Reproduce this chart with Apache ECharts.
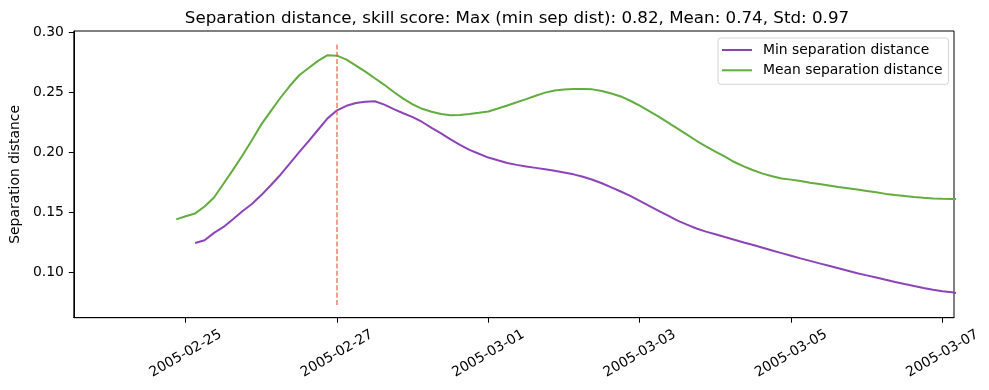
<!DOCTYPE html>
<html>
<head>
<meta charset="utf-8">
<script src="https://cdn.jsdelivr.net/npm/echarts@6/dist/echarts.min.js"></script>
<style>
html,body{margin:0;padding:0;background:#fff;}
#chart{width:989px;height:390px;}
</style>
</head>
<body>
<div id="chart"></div>
<script>
const titleText = 'Separation distance, skill score: Max (min sep dist): 0.82, Mean: 0.74, Std: 0.97';
const yAxisTitle = 'Separation distance';
const seriesNames = ['Min separation distance', 'Mean separation distance'];

const times = [
  '2005-02-24 21:00',
  '2005-02-25 00:00','2005-02-25 03:00','2005-02-25 06:00','2005-02-25 09:00','2005-02-25 12:00','2005-02-25 15:00','2005-02-25 18:00','2005-02-25 21:00',
  '2005-02-26 00:00','2005-02-26 03:00','2005-02-26 06:00','2005-02-26 09:00','2005-02-26 12:00','2005-02-26 15:00','2005-02-26 18:00','2005-02-26 21:00',
  '2005-02-27 00:00','2005-02-27 03:00','2005-02-27 06:00','2005-02-27 09:00','2005-02-27 12:00','2005-02-27 15:00','2005-02-27 18:00','2005-02-27 21:00',
  '2005-02-28 00:00','2005-02-28 03:00','2005-02-28 06:00','2005-02-28 09:00','2005-02-28 12:00','2005-02-28 15:00','2005-02-28 18:00','2005-02-28 21:00',
  '2005-03-01 00:00','2005-03-01 03:00','2005-03-01 06:00','2005-03-01 09:00','2005-03-01 12:00','2005-03-01 15:00','2005-03-01 18:00','2005-03-01 21:00',
  '2005-03-02 00:00','2005-03-02 03:00','2005-03-02 06:00','2005-03-02 09:00','2005-03-02 12:00','2005-03-02 15:00','2005-03-02 18:00','2005-03-02 21:00',
  '2005-03-03 00:00','2005-03-03 03:00','2005-03-03 06:00','2005-03-03 09:00','2005-03-03 12:00','2005-03-03 15:00','2005-03-03 18:00','2005-03-03 21:00',
  '2005-03-04 00:00','2005-03-04 03:00','2005-03-04 06:00','2005-03-04 09:00','2005-03-04 12:00','2005-03-04 15:00','2005-03-04 18:00','2005-03-04 21:00',
  '2005-03-05 00:00','2005-03-05 03:00','2005-03-05 06:00','2005-03-05 09:00','2005-03-05 12:00','2005-03-05 15:00','2005-03-05 18:00','2005-03-05 21:00',
  '2005-03-06 00:00','2005-03-06 03:00','2005-03-06 06:00','2005-03-06 09:00','2005-03-06 12:00','2005-03-06 15:00','2005-03-06 18:00','2005-03-06 21:00',
  '2005-03-07 00:00','2005-03-07 03:00','2005-03-07 06:00'
];

const minSep = [
  null,
  null,0.1245,0.1268,0.1330,0.1379,0.1444,0.1510,0.1570,
  0.1645,0.1727,0.1813,0.1908,0.2003,0.2095,0.2190,0.2285,
  0.2352,0.2390,0.2413,0.2424,0.2428,0.2400,0.2362,0.2328,
  0.2296,0.2255,0.2205,0.2160,0.2110,0.2064,0.2022,0.1990,
  0.1958,0.1935,0.1913,0.1897,0.1883,0.1872,0.1860,0.1848,
  0.1833,0.1818,0.1798,0.1773,0.1744,0.1710,0.1675,0.1638,
  0.1597,0.1555,0.1514,0.1473,0.1432,0.1398,0.1366,0.1340,
  0.1318,0.1295,0.1273,0.1250,0.1228,0.1205,0.1183,0.1161,
  0.1139,0.1117,0.1096,0.1075,0.1055,0.1035,0.1014,0.0993,
  0.0975,0.0957,0.0938,0.0920,0.0903,0.0887,0.0870,0.0855,
  0.0843,0.0834,0.0822
];

const meanSep = [
  0.1442,
  0.1468,0.1492,0.1550,0.1625,0.1740,0.1855,0.1975,0.2103,
  0.2235,0.2345,0.2455,0.2555,0.2645,0.2705,0.2765,0.2812,
  0.2808,0.2775,0.2725,0.2675,0.2620,0.2565,0.2505,0.2450,
  0.2402,0.2365,0.2340,0.2322,0.2312,0.2313,0.2322,0.2332,
  0.2343,0.2367,0.2393,0.2419,0.2446,0.2474,0.2500,0.2518,
  0.2526,0.2531,0.2531,0.2527,0.2514,0.2493,0.2468,0.2432,
  0.2392,0.2345,0.2300,0.2250,0.2200,0.2150,0.2098,0.2052,
  0.2007,0.1965,0.1921,0.1885,0.1852,0.1824,0.1802,0.1784,
  0.1774,0.1762,0.1748,0.1737,0.1725,0.1713,0.1702,0.1691,
  0.1680,0.1668,0.1655,0.1645,0.1638,0.1630,0.1623,0.1617,
  0.1614,0.1613,0.1612
];

const markerTime = '2005-02-27 00:00';
const markerRange = [0.0728, 0.2912];

const xTickLabels = ['2005-02-25','2005-02-27','2005-03-01','2005-03-03','2005-03-05','2005-03-07'];
const yTicks = [0.10, 0.15, 0.20, 0.25, 0.30];
const xRange = ['2005-02-23 12:32', '2005-03-07 03:40'];
const yRange = [0.0622, 0.3014];

const FONT = 'DejaVu Sans';
const colors = ['#8c44b8', '#62ad3e'];

function parseT(s) {
  const p = s.split(/[- :]/).map(Number);
  return Date.UTC(p[0], p[1]-1, p[2], p[3]||0, p[4]||0);
}
function pad(n){return (n<10?'0':'')+n;}
function fmtDate(v){const d=new Date(v);return d.getUTCFullYear()+'-'+pad(d.getUTCMonth()+1)+'-'+pad(d.getUTCDate());}

const tsList = times.map(parseT);
const minData = tsList.map((t,i)=>[t, minSep[i]]);
const meanData = tsList.map((t,i)=>[t, meanSep[i]]);
const xTickVals = xTickLabels.map(parseT);

const chart = echarts.init(document.getElementById('chart'), null, {renderer:'canvas'});
chart.setOption({
  animation: false,
  backgroundColor: '#fff',
  textStyle: {fontFamily: FONT, color: '#000'},
  title: {
    text: titleText,
    left: 512, top: 5, textAlign: 'center',
    textStyle: {fontFamily: FONT, fontSize: 16.7, fontWeight: 'normal', color: '#000'}
  },
  legend: {
    data: seriesNames,
    orient: 'vertical',
    left: 718, top: 38,
    padding: [2, 6, 4, 4],
    itemGap: 0.3,
    itemWidth: 30, itemHeight: 2,
    icon: 'rect',
    borderColor: '#d5d5d5', borderWidth: 1, borderRadius: 3,
    backgroundColor: 'rgba(255,255,255,0.8)',
    textStyle: {fontFamily: FONT, fontSize: 13.9, color: '#000', lineHeight: 20, padding: [0,0,0,6]}
  },
  grid: {
    left: 70, right: 35, top: 31, bottom: 72.3,
    show: true, borderColor: '#000', borderWidth: 1, containLabel: false
  },
  xAxis: {
    type: 'value',
    min: parseT(xRange[0]), max: parseT(xRange[1]),
    splitLine: {show: false},
    axisLine: {show: true, lineStyle: {color: '#000', width: 1}},
    axisTick: {show: true, length: 5, lineStyle: {color: '#000', width: 1}, customValues: xTickVals},
    axisLabel: {
      customValues: xTickVals,
      formatter: fmtDate,
      rotate: 30, align: 'center', verticalAlign: 'middle', margin: 36,
      fontFamily: FONT, fontSize: 13.9, color: '#000',
      hideOverlap: false, showMinLabel: true, showMaxLabel: true
    }
  },
  yAxis: {
    type: 'value',
    min: yRange[0], max: yRange[1],
    name: yAxisTitle,
    nameLocation: 'middle', nameGap: 47,
    nameTextStyle: {fontFamily: FONT, fontSize: 13.9, color: '#000'},
    splitLine: {show: false},
    axisLine: {show: true, lineStyle: {color: '#000', width: 1}},
    axisTick: {show: true, length: 5, lineStyle: {color: '#000', width: 1}, customValues: yTicks},
    axisLabel: {
      customValues: yTicks,
      formatter: v => v.toFixed(2),
      margin: 10, fontFamily: FONT, fontSize: 13.9, color: '#000'
    }
  },
  series: [
    {
      name: seriesNames[0], type: 'line', data: minData,
      showSymbol: false, symbol: 'none', clip: true,
      lineStyle: {color: colors[0], width: 2}, itemStyle: {color: colors[0]}
    },
    {
      name: seriesNames[1], type: 'line', data: meanData,
      showSymbol: false, symbol: 'none', clip: true,
      lineStyle: {color: colors[1], width: 2}, itemStyle: {color: colors[1]}
    },
    {
      name: 'marker', type: 'line',
      data: [[parseT(markerTime), markerRange[0]], [parseT(markerTime), markerRange[1]]],
      showSymbol: false, symbol: 'none', silent: true,
      lineStyle: {color: '#e8503a', width: 1.1, type: [5.1, 2.2]}
    }
  ]
});
</script>
</body>
</html>
